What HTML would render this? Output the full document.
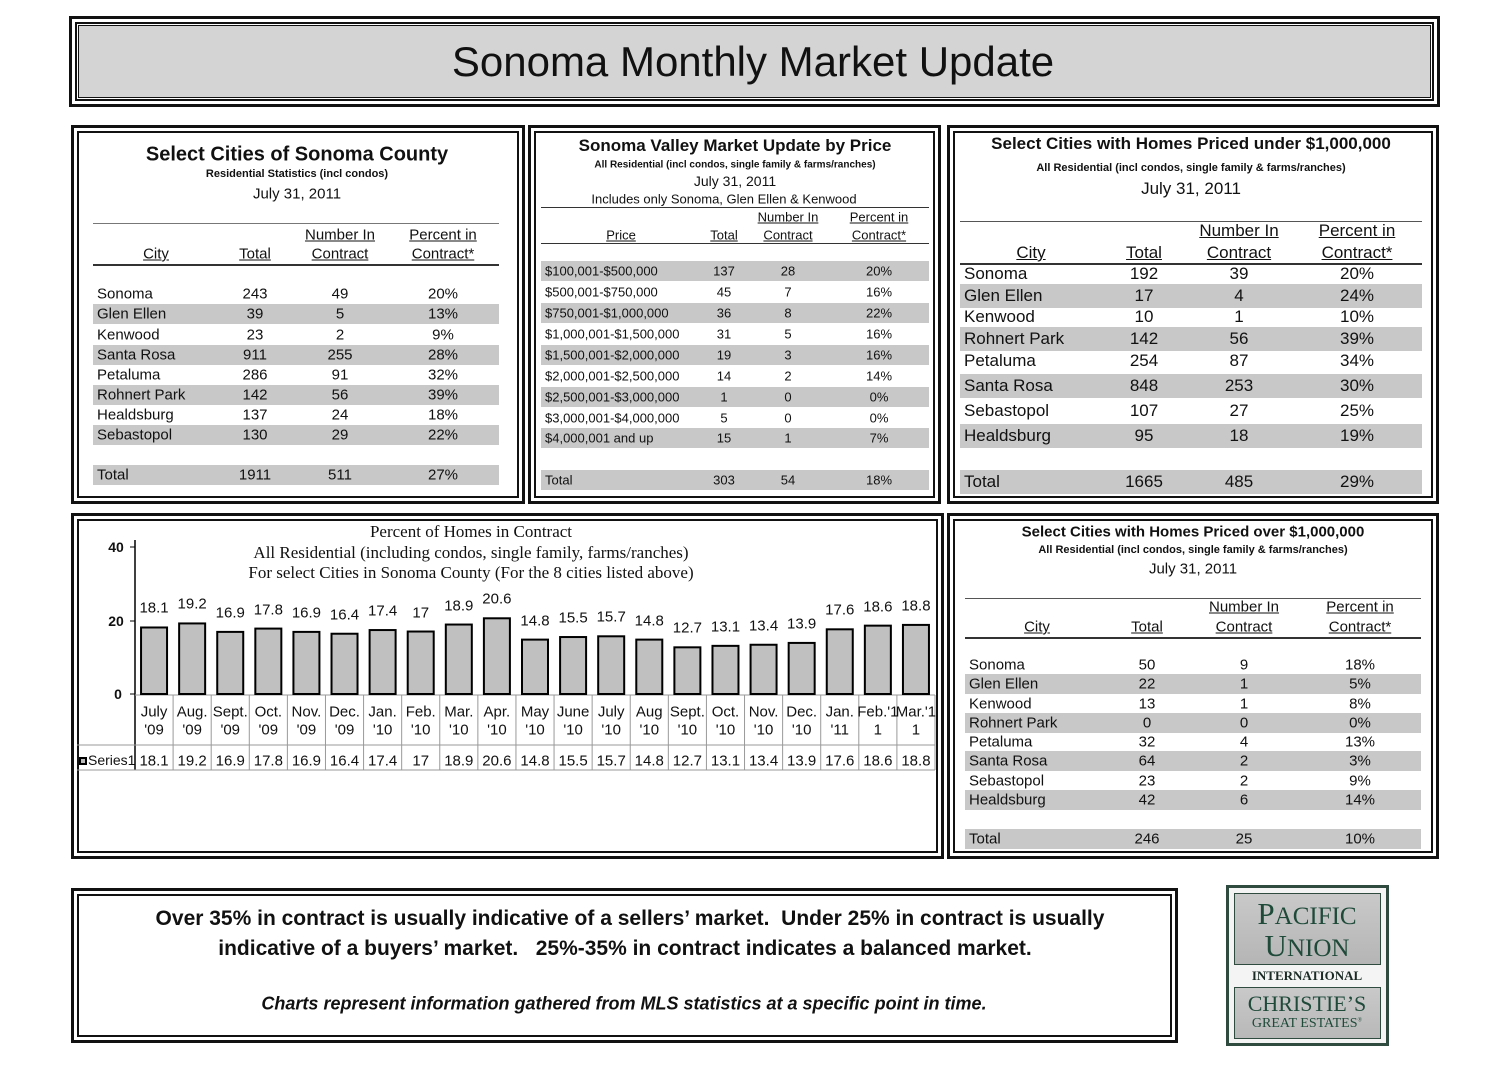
<!DOCTYPE html>
<html><head><meta charset="utf-8"><style>
*{margin:0;padding:0;box-sizing:border-box}
body{width:1510px;height:1065px;background:#fff;position:relative;font-family:"Liberation Sans",sans-serif;color:#111;overflow:hidden}
.a{position:absolute}
.fr{position:absolute;border:3px solid #111;box-shadow:inset 0 0 0 3px #fff,inset 0 0 0 5px #111}
.t{position:absolute;white-space:nowrap;transform:translate(-50%,-50%)}
.l{position:absolute;white-space:nowrap;transform:translateY(-50%)}
.g{position:absolute;background:#c8c8c8}
.hl{position:absolute;background:#333}
.u{text-decoration:underline}
.n{font-family:"Liberation Sans Narrow","Liberation Sans",sans-serif}
.s{font-family:"Liberation Serif",serif}
</style></head><body>

<div class="fr" style="left:69px;top:16px;width:1371px;height:91px"></div>
<div class="a" style="left:78px;top:25px;width:1353px;height:73px;background:#d4d4d4;border:1px solid #111"></div>
<div class="t" style="left:753px;top:62px;font-size:42px">Sonoma Monthly Market Update</div>

<div class="fr" style="left:71px;top:125px;width:454px;height:379px"></div>
<div class="t" style="left:297px;top:155px;font-size:20px;font-weight:bold">Select Cities of Sonoma County</div>
<div class="t" style="left:297px;top:174px;font-size:11px;font-weight:bold">Residential Statistics (incl condos)</div>
<div class="t" style="left:297px;top:194px;font-size:15px">July 31, 2011</div>
<div class="hl" style="left:93px;top:223px;width:406px;height:1px;background:#777"></div>
<div class="hl" style="left:93px;top:264px;width:406px;height:2px"></div>
<div style="font-size:15px">
<div class="t u" style="left:340px;top:235px">Number In</div><div class="t u" style="left:443px;top:235px">Percent in</div>
<div class="t u" style="left:156px;top:254px">City</div><div class="t u" style="left:255px;top:254px">Total</div><div class="t u" style="left:340px;top:254px">Contract</div><div class="t u" style="left:443px;top:254px">Contract*</div>
<div class="g" style="left:93px;top:304px;width:406px;height:20px"></div>
<div class="g" style="left:93px;top:345px;width:406px;height:20px"></div>
<div class="g" style="left:93px;top:385px;width:406px;height:20px"></div>
<div class="g" style="left:93px;top:425px;width:406px;height:20px"></div>
<div class="g" style="left:93px;top:465px;width:406px;height:20px"></div>
</div>
<div id="p1" style="font-size:15px"></div>

<div class="fr" style="left:528px;top:125px;width:413px;height:379px"></div>
<div class="t n" style="left:735px;top:146px;font-size:17px;font-weight:bold">Sonoma Valley Market Update by Price</div>
<div class="t n" style="left:735px;top:165px;font-size:10px;font-weight:bold">All Residential (incl condos, single family &amp; farms/ranches)</div>
<div class="t n" style="left:735px;top:181px;font-size:14px">July 31, 2011</div>
<div class="t n" style="left:724px;top:199px;font-size:13px">Includes only Sonoma, Glen Ellen &amp; Kenwood</div>
<div class="hl" style="left:541px;top:207px;width:388px;height:1px"></div>
<div class="hl" style="left:541px;top:243px;width:388px;height:1px"></div>
<div class="n" style="font-size:13px">
<div class="t u" style="left:788px;top:217px">Number In</div><div class="t u" style="left:879px;top:217px">Percent in</div>
<div class="t u" style="left:621px;top:235px">Price</div><div class="t u" style="left:724px;top:235px">Total</div><div class="t u" style="left:788px;top:235px">Contract</div><div class="t u" style="left:879px;top:235px">Contract*</div>
</div>
<div id="p2" class="n" style="font-size:13px"></div>

<div class="fr" style="left:947px;top:125px;width:492px;height:379px"></div>
<div class="t" style="left:1191px;top:144px;font-size:17px;font-weight:bold">Select Cities with Homes Priced under $1,000,000</div>
<div class="t" style="left:1191px;top:168px;font-size:11px;font-weight:bold">All Residential (incl condos, single family &amp; farms/ranches)</div>
<div class="t" style="left:1191px;top:189px;font-size:17px">July 31, 2011</div>
<div class="hl" style="left:960px;top:221px;width:462px;height:1px;background:#555"></div>
<div class="hl" style="left:960px;top:263px;width:462px;height:2px"></div>
<div style="font-size:17px">
<div class="t u" style="left:1239px;top:231px">Number In</div><div class="t u" style="left:1357px;top:231px">Percent in</div>
<div class="t u" style="left:1031px;top:253px">City</div><div class="t u" style="left:1144px;top:253px">Total</div><div class="t u" style="left:1239px;top:253px">Contract</div><div class="t u" style="left:1357px;top:253px">Contract*</div>
</div>
<div id="p3" style="font-size:17px"></div>

<div class="fr" style="left:71px;top:513px;width:873px;height:346px"></div>
<svg class="a" style="left:0;top:0" width="1510" height="1065" id="chsvg"></svg>
<div class="t s" style="left:471px;top:532px;font-size:17px">Percent of Homes in Contract</div>
<div class="t s" style="left:471px;top:553px;font-size:17px">All Residential (including condos, single family, farms/ranches)</div>
<div class="t s" style="left:471px;top:573px;font-size:17px">For select Cities in Sonoma County (For the 8 cities listed above)</div>
<div id="p4" class="n" style="font-size:15px"></div>

<div class="fr" style="left:947px;top:513px;width:492px;height:346px"></div>
<div class="t" style="left:1193px;top:532px;font-size:15px;font-weight:bold">Select Cities with Homes Priced over $1,000,000</div>
<div class="t" style="left:1193px;top:550px;font-size:11px;font-weight:bold">All Residential (incl condos, single family &amp; farms/ranches)</div>
<div class="t" style="left:1193px;top:569px;font-size:15px">July 31, 2011</div>
<div class="hl" style="left:965px;top:598px;width:456px;height:1px;background:#555"></div>
<div class="hl" style="left:965px;top:637px;width:456px;height:2px"></div>
<div style="font-size:15px">
<div class="t u" style="left:1244px;top:607px">Number In</div><div class="t u" style="left:1360px;top:607px">Percent in</div>
<div class="t u" style="left:1037px;top:627px">City</div><div class="t u" style="left:1147px;top:627px">Total</div><div class="t u" style="left:1244px;top:627px">Contract</div><div class="t u" style="left:1360px;top:627px">Contract*</div>
</div>
<div id="p5" style="font-size:15px"></div>

<div class="fr" style="left:71px;top:888px;width:1107px;height:155px"></div>
<div class="t" style="left:630px;top:919px;font-size:21px;font-weight:bold">Over 35% in contract is usually indicative of a sellers’ market.&nbsp; Under 25% in contract is usually</div>
<div class="t" style="left:625px;top:949px;font-size:21px;font-weight:bold">indicative of a buyers’ market.&nbsp;&nbsp; 25%-35% in contract indicates a balanced market.</div>
<div class="t" style="left:624px;top:1004px;font-size:18px;font-weight:bold;font-style:italic">Charts represent information gathered from MLS statistics at a specific point in time.</div>

<div class="a" style="left:1226px;top:885px;width:163px;height:161px;border:3px solid #2f4a3e;background:#f4f4f4"></div>
<div class="a" style="left:1234px;top:893px;width:147px;height:72px;background:linear-gradient(#c9c9c9,#b5b5b5);border:1px solid #2f4a3e"></div>
<div class="a" style="left:1234px;top:987px;width:147px;height:52px;background:linear-gradient(#c9c9c9,#b8b8b8);border:1px solid #2f4a3e"></div>
<div class="t s" style="left:1307px;top:914px;font-size:31px;color:#1f4a3a">P<span style="font-size:25px">ACIFIC</span></div>
<div class="t s" style="left:1307px;top:946px;font-size:31px;color:#1f4a3a">U<span style="font-size:25px">NION</span></div>
<div class="t s" style="left:1307px;top:976px;font-size:13px;font-weight:bold;color:#1a2a24">INTERNATIONAL</div>
<div class="t s" style="left:1307px;top:1004px;font-size:22px;color:#1f4a3a">CHRISTIE’S</div>
<div class="t s" style="left:1307px;top:1024px;font-size:14px;color:#1f4a3a">GREAT ESTATES<sup style="font-size:6px">®</sup></div>

<script>
(function(){
function rows(id,cols,ys,data,gray,gx,gw,gh){
 var h='';
 data.forEach(function(r,i){
  var y=ys[i];
  if(gray[i]) h+='<div class="g" style="left:'+gx+'px;top:'+(y-gh/2)+'px;width:'+gw+'px;height:'+gh+'px"></div>';
  h+='<div class="l" style="left:'+cols[0]+'px;top:'+y+'px">'+r[0]+'</div>';
  for(var k=1;k<4;k++) h+='<div class="t" style="left:'+cols[k]+'px;top:'+y+'px">'+r[k]+'</div>';
 });
 document.getElementById(id).innerHTML=h;
}
rows('p1',[97,255,340,443],[294,314,335,355,375,395,415,435,475],
[['Sonoma',243,49,'20%'],['Glen Ellen',39,5,'13%'],['Kenwood',23,2,'9%'],['Santa Rosa',911,255,'28%'],['Petaluma',286,91,'32%'],['Rohnert Park',142,56,'39%'],['Healdsburg',137,24,'18%'],['Sebastopol',130,29,'22%'],['Total',1911,511,'27%']],
[0,0,0,0,0,0,0,0,0],93,406,20);
rows('p2',[545,724,788,879],[271,292,313,334,355,376,397,418,438,480],
[['$100,001-$500,000',137,28,'20%'],['$500,001-$750,000',45,7,'16%'],['$750,001-$1,000,000',36,8,'22%'],['$1,000,001-$1,500,000',31,5,'16%'],['$1,500,001-$2,000,000',19,3,'16%'],['$2,000,001-$2,500,000',14,2,'14%'],['$2,500,001-$3,000,000',1,0,'0%'],['$3,000,001-$4,000,000',5,0,'0%'],['$4,000,001 and up',15,1,'7%'],['Total',303,54,'18%']],
[1,0,1,0,1,0,1,0,1,1],541,388,20);
rows('p3',[964,1144,1239,1357],[274,296,317,339,361,386,411,436,482],
[['Sonoma',192,39,'20%'],['Glen Ellen',17,4,'24%'],['Kenwood',10,1,'10%'],['Rohnert Park',142,56,'39%'],['Petaluma',254,87,'34%'],['Santa Rosa',848,253,'30%'],['Sebastopol',107,27,'25%'],['Healdsburg',95,18,'19%'],['Total',1665,485,'29%']],
[0,1,0,1,0,1,0,1,1],960,462,24);
rows('p5',[969,1147,1244,1360],[665,684,704,723,742,761,781,800,839],
[['Sonoma',50,9,'18%'],['Glen Ellen',22,1,'5%'],['Kenwood',13,1,'8%'],['Rohnert Park',0,0,'0%'],['Petaluma',32,4,'13%'],['Santa Rosa',64,2,'3%'],['Sebastopol',23,2,'9%'],['Healdsburg',42,6,'14%'],['Total',246,25,'10%']],
[0,1,0,1,0,1,0,1,1],965,456,20);

var v=[18.1,19.2,16.9,17.8,16.9,16.4,17.4,17,18.9,20.6,14.8,15.5,15.7,14.8,12.7,13.1,13.4,13.9,17.6,18.6,18.8];
var m1=['July','Aug.','Sept.','Oct.','Nov.','Dec.','Jan.','Feb.','Mar.','Apr.','May','June','July','Aug','Sept.','Oct.','Nov.','Dec.','Jan.','Feb.\'1','Mar.\'1'];
var m2=["'09","'09","'09","'09","'09","'09","'10","'10","'10","'10","'10","'10","'10","'10","'10","'10","'10","'10","'11","1","1"];
var x0=135,w=(935-135)/21,base=694,sc=73.5/20;
var s='<line x1="135" y1="540" x2="135" y2="770" stroke="#000" stroke-width="1.5"/>';
[694,621,547].forEach(function(yy){s+='<line x1="130" y1="'+yy+'" x2="135" y2="'+yy+'" stroke="#000"/>';});
s+='<line x1="77" y1="745" x2="935" y2="745" stroke="#999"/><line x1="77" y1="770" x2="935" y2="770" stroke="#999"/><line x1="135" y1="695" x2="935" y2="695" stroke="#999"/>';
var h='';
h+='<div class="t" style="left:116px;top:547px;font-weight:bold;font-size:14px">40</div><div class="t" style="left:116px;top:621px;font-weight:bold;font-size:14px">20</div><div class="t" style="left:118px;top:694px;font-weight:bold;font-size:14px">0</div>';
h+='<div class="l" style="left:79px;top:760px;font-size:14px"><span style="display:inline-block;width:8px;height:8px;border:2px solid #000;background:#bbb;margin-right:1px"></span>Series1</div>';
for(var i=0;i<21;i++){
 var cx=x0+w*(i+0.5),by=base-v[i]*sc;
 s+='<rect x="'+(cx-13)+'" y="'+by+'" width="26" height="'+(base-by)+'" fill="#c0c0c0" stroke="#000" stroke-width="2"/>';
 s+='<line x1="'+(x0+w*(i+1))+'" y1="695" x2="'+(x0+w*(i+1))+'" y2="770" stroke="#999"/>';
 h+='<div class="t" style="left:'+cx+'px;top:'+(by-19)+'px">'+v[i]+'</div>';
 h+='<div class="t" style="left:'+cx+'px;top:712px">'+m1[i]+'</div>';
 h+='<div class="t" style="left:'+cx+'px;top:730px">'+m2[i]+'</div>';
 h+='<div class="t" style="left:'+cx+'px;top:761px">'+v[i]+'</div>';
}
document.getElementById('chsvg').innerHTML=s;
document.getElementById('p4').innerHTML=h;
})();
</script>
</body></html>
